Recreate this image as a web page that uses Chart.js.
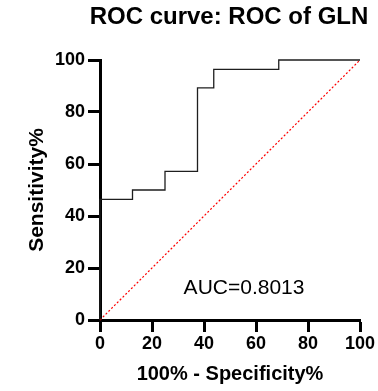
<!DOCTYPE html>
<html>
<head>
<meta charset="utf-8">
<script src="https://cdn.jsdelivr.net/npm/chart.js@4.4.1/dist/chart.umd.min.js"></script>
<style>
  html, body { margin: 0; padding: 0; background: #fff; }
  #box { width: 378px; height: 391px; position: relative; }
</style>
</head>
<body>
<div id="box"><canvas id="rocChart"></canvas></div>
<script>
// Curva ROC - GLN

const fpr = [0, 0, 12.5, 25, 37.5, 43.75, 68.75, 100];          // 100% - Specificity%
const sens = [0, 46.43, 50, 57.14, 89.29, 96.43, 100, 100];     // Sensitivity%
const refX = [0, 100];
const refY = [0, 100];
const tickVals = [0, 20, 40, 60, 80, 100];

const titulo = 'ROC curve: ROC of GLN';
const aucTexto = 'AUC=0.8013';
const fonte = "'Liberation Sans', Arial, sans-serif";

const textos = {
  id: 'textos',
  afterDraw(chart) {
    const ctx = chart.ctx;
    const area = chart.chartArea;
    const sx = chart.scales.x;
    const sy = chart.scales.y;
    ctx.save();
    ctx.fillStyle = '#000';
    ctx.textAlign = 'center';
    ctx.textBaseline = 'middle';
    ctx.font = 'bold 24px ' + fonte;
    ctx.fillText(titulo, (area.left + area.right) / 2 - 1, 17);
    ctx.font = '21px ' + fonte;
    ctx.fillText(aucTexto, sx.getPixelForValue(55.4), sy.getPixelForValue(12.4));
    ctx.restore();
  }
};

const dataRoc = {
  datasets: [
    {
      label: 'ROC',
      data: fpr.map((v, i) => ({ x: v, y: sens[i] })),
      showLine: true,
      stepped: 'before',
      borderColor: '#1e1e1e',
      borderWidth: 1.3,
      pointRadius: 0,
      clip: 5
    },
    {
      label: 'ref',
      data: refX.map((v, i) => ({ x: v, y: refY[i] })),
      showLine: true,
      borderColor: '#ff0000',
      borderWidth: 1.2,
      borderDash: [2, 2],
      pointRadius: 0,
      clip: 5
    }
  ]
};

const eixo = (titleText, size, pad, afterFit) => ({
  type: 'linear',
  min: 0,
  max: 100,
  afterBuildTicks: (s) => { s.ticks = tickVals.map(v => ({ value: v })); },
  afterFit: afterFit,
  grid: {
    display: true,
    drawOnChartArea: false,
    drawTicks: true,
    tickLength: 12,
    tickWidth: 3,
    tickColor: '#000'
  },
  border: { display: true, width: 3, color: '#000' },
  ticks: {
    color: '#000',
    padding: pad,
    font: { family: fonte, size: 18, weight: 'bold' }
  },
  title: {
    display: true,
    text: titleText,
    color: '#000',
    font: { family: fonte, size: size, weight: 'bold' }
  }
});

const optionsRoc = {
  responsive: true,
  maintainAspectRatio: false,
  animation: false,
  layout: { padding: { top: 60, right: 18, bottom: 0, left: 0 } },
  scales: {
    x: eixo('100% - Specificity%', 20, 1, (s) => { s.height = 71; }),
    y: eixo('Sensitivity%', 21, 3, (s) => { s.width = 100; })
  },
  plugins: {
    legend: { display: false },
    tooltip: { enabled: false }
  }
};
optionsRoc.scales.x.title.padding = { top: 0, bottom: 5 };
optionsRoc.scales.y.title.padding = { top: 25, bottom: 0 };

const ctxRoc = document.getElementById('rocChart').getContext('2d');
const myChartRoc = new Chart(ctxRoc, {
  type: 'scatter',
  data: dataRoc,
  options: optionsRoc,
  plugins: [textos]
});
</script>
</body>
</html>
